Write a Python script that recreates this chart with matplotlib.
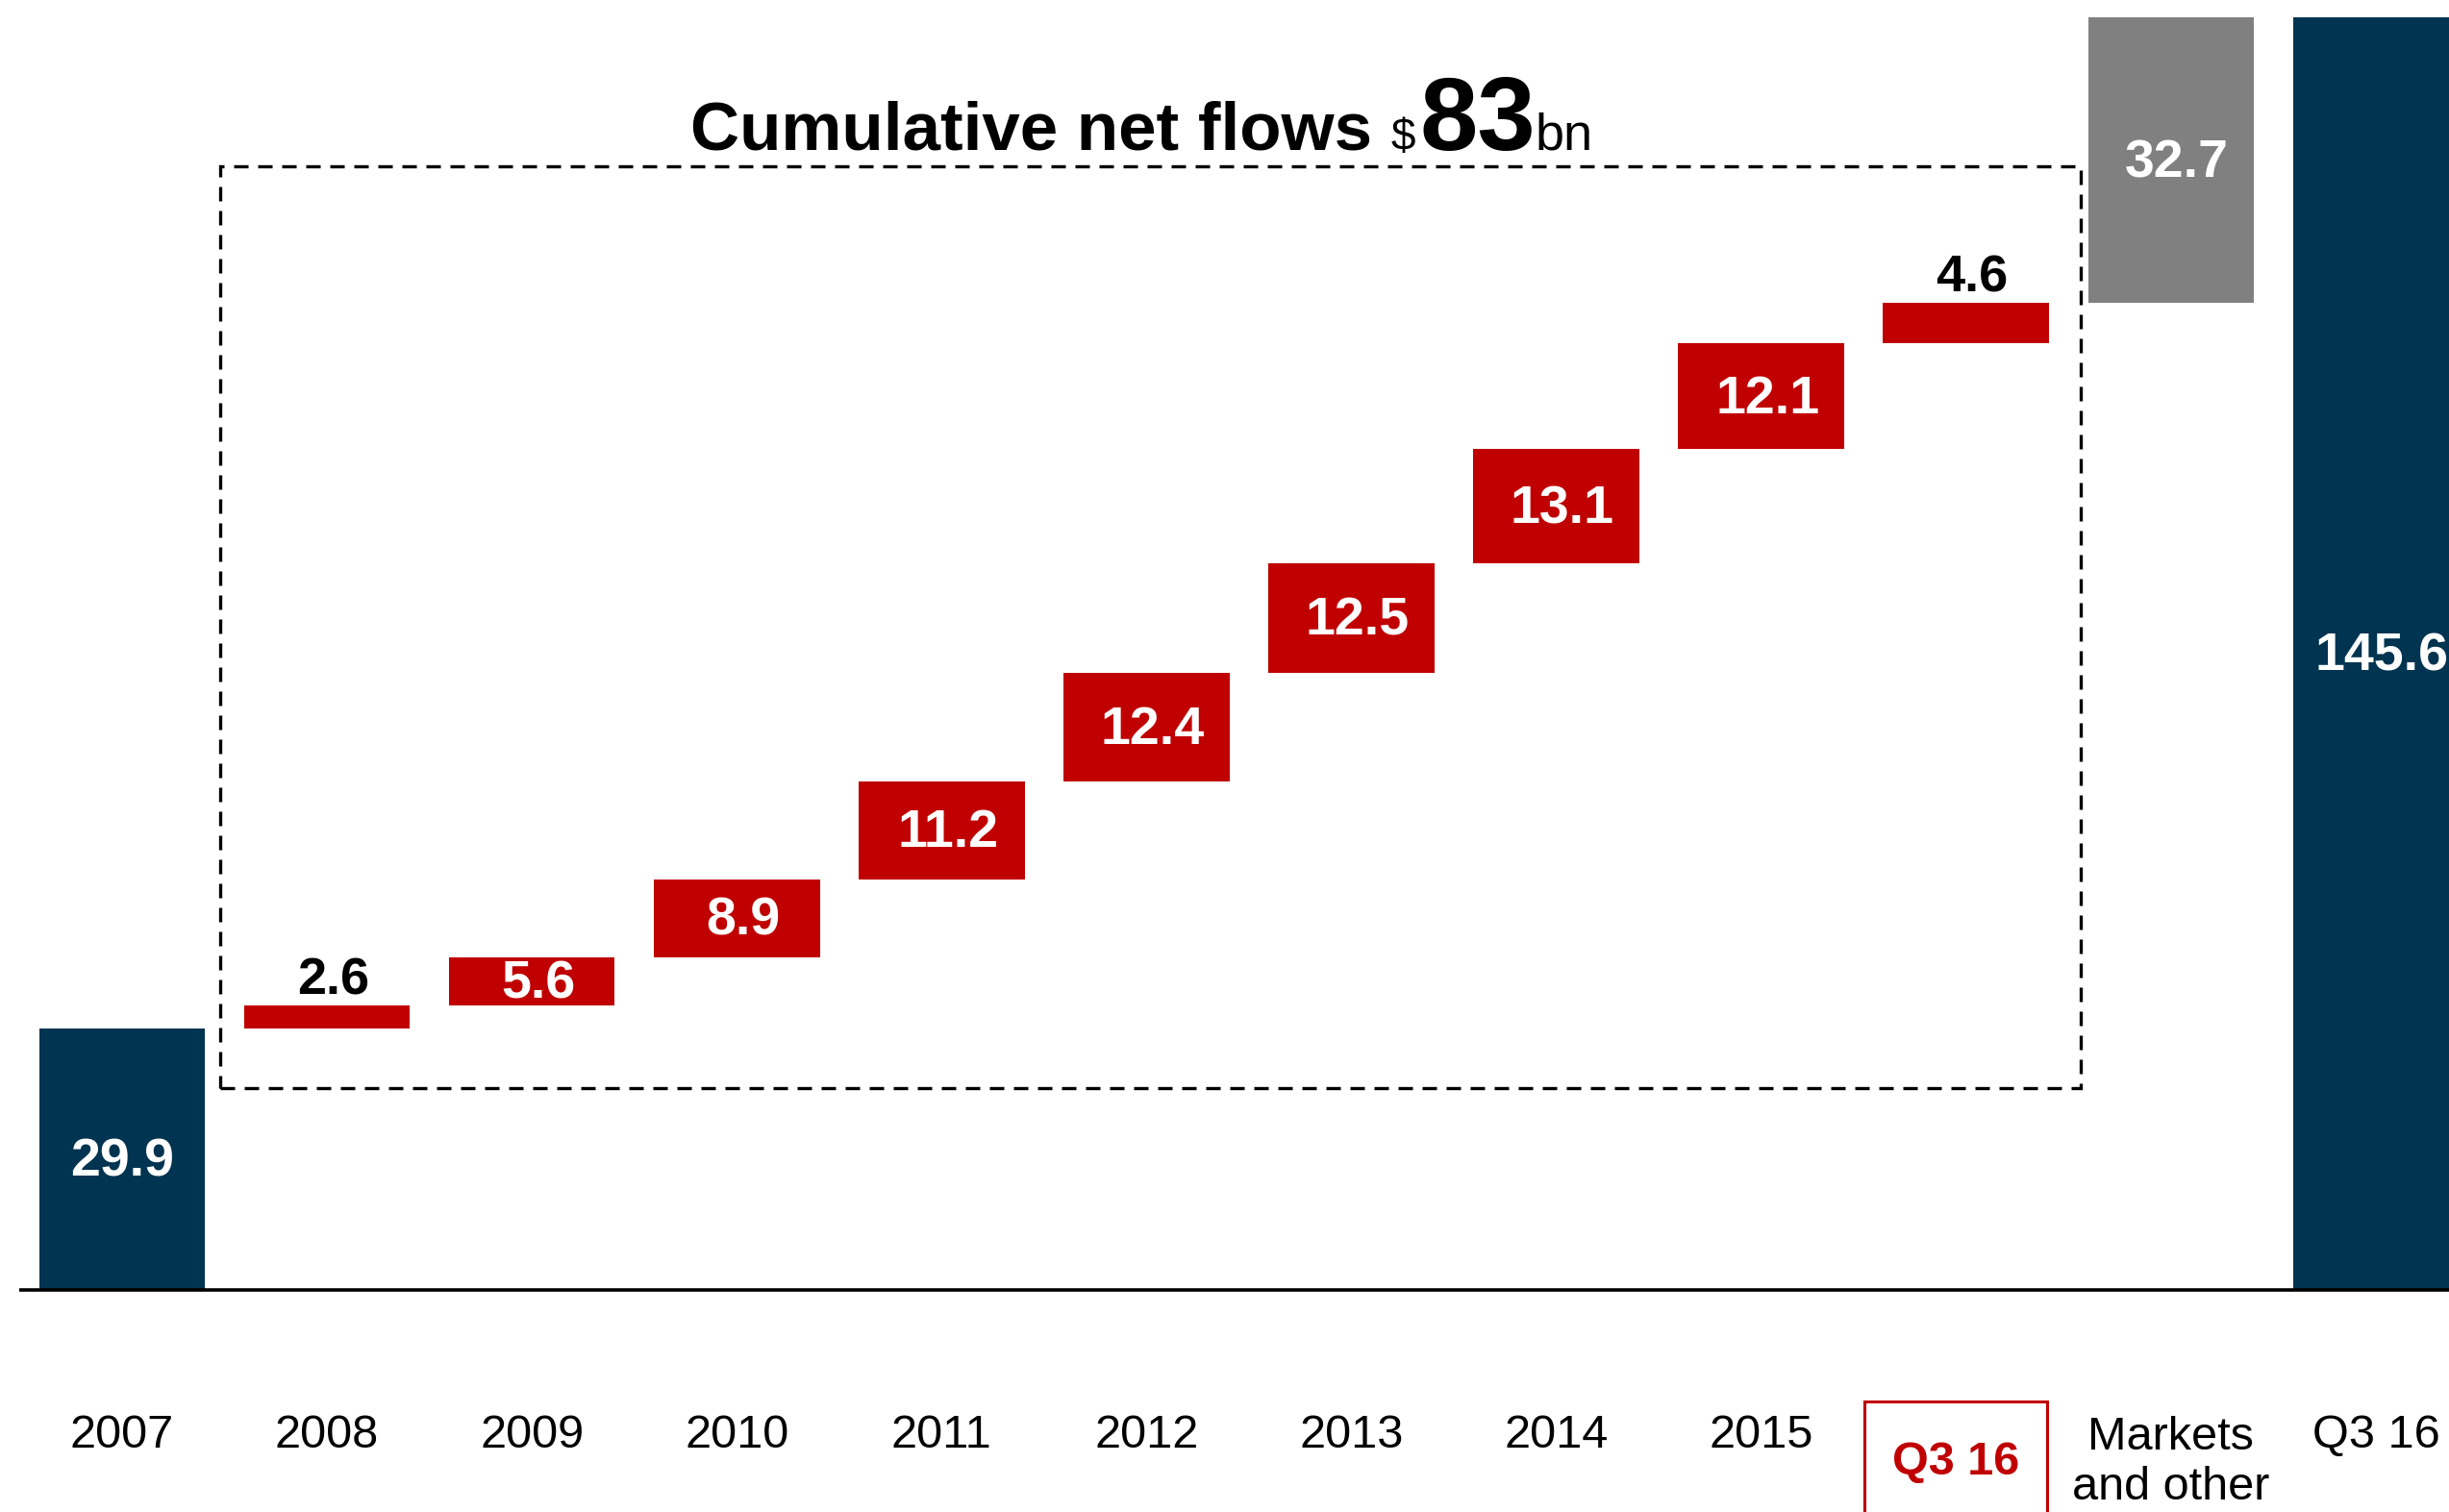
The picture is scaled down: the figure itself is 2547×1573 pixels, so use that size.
import matplotlib.pyplot as plt
import numpy as np
from matplotlib.patches import Rectangle

plt.rcParams['font.family'] = ['Liberation Sans', 'DejaVu Sans']

# AUM bridge, $bn
categories = ['2007', '2008', '2009', '2010', '2011', '2012', '2013', '2014',
              '2015', 'Q3 16', 'Markets\nand other', 'Q3 16']
opening = 29.9
net_flows = [2.6, 5.6, 8.9, 11.2, 12.4, 12.5, 13.1, 12.1, 4.6]
markets = 32.7
closing = 145.6
cumulative_flows = 83

NAVY = '#003450'
RED = '#C00000'
GREY = '#808080'

# bar geometry of the waterfall
flow_bottoms = opening + np.concatenate([[0], np.cumsum(net_flows)[:-1]])
heights = [opening] + net_flows + [markets, closing]
bottoms = [0] + list(flow_bottoms) + [opening + sum(net_flows), 0]
colors = [NAVY] + [RED] * len(net_flows) + [GREY, NAVY]
x = np.arange(len(categories))

fig = plt.figure(figsize=(25.47, 15.73), dpi=100)
ax = fig.add_axes([0, 0, 1, 1])
ax.axis('off')
ax.set_xlim(-0.596, 11.357)
ax.set_ylim(-25.41, 147.58)

ax.bar(x, heights, bottom=bottoms, width=0.81, color=colors, zorder=2)
ax.plot([-0.5, 11.4], [0, 0], color='black', lw=2.6, zorder=3,
        solid_capstyle='butt')

# value labels: small flows sit above the bar, the rest inside in white
for i, (xi, h, b) in enumerate(zip(x, heights, bottoms)):
    txt = f'{h:.1f}'
    dx = 0.03 if i > 0 else 0.0
    if h < 5:
        ax.text(xi + dx, b + h + 2.8, txt, ha='center', va='center',
                fontsize=39, fontweight='bold', color='black', zorder=4)
    else:
        ax.text(xi + dx, b + h / 2 - 0.4, txt, ha='center', va='center',
                fontsize=40, fontweight='bold', color='white', zorder=4)

# category labels
for xi, lab in enumerate(categories):
    if xi == 9:
        continue
    if '\n' in lab:
        ax.text(xi, -19.8, lab, ha='center', va='center', fontsize=35,
                linespacing=1.2)
    else:
        ax.text(xi, -16.7, lab, ha='center', va='center', fontsize=35)

# highlighted current period
ax.text(8.95, -19.8, categories[9], ha='center', va='center', fontsize=35,
        fontweight='bold', color=RED)
ax.add_patch(Rectangle((8.505, -30), 0.89, 30 - 12.75, fill=False,
                       edgecolor=RED, lw=2.2, zorder=3))

# dashed frame around the yearly flows
ax.add_patch(Rectangle((0.479, 23.1), 9.559 - 0.479, 128.5 - 23.1, fill=False,
                       edgecolor='black', lw=2.4, linestyle=(0, (4.5, 3)),
                       zorder=1))

# heading: "Cumulative net flows $83bn"
fig.canvas.draw()
renderer = fig.canvas.get_renderer()
W, H = fig.bbox.width, fig.bbox.height
base_y = 1 - 156 / 1573
pieces = [('Cumulative net flows ', 51, 'bold'),
          ('$', 33, 'normal'),
          (f'{cumulative_flows}', 78, 'bold'),
          ('bn', 39, 'normal')]
xpos = 718 / W
for s, size, weight in pieces:
    t = fig.text(xpos, base_y, s, ha='left', va='baseline', fontsize=size,
                 fontweight=weight)
    bb = t.get_window_extent(renderer)
    xpos = bb.x1 / W + (4 / W if s == '$' else 0)

fig.savefig('out.png', dpi=100)
